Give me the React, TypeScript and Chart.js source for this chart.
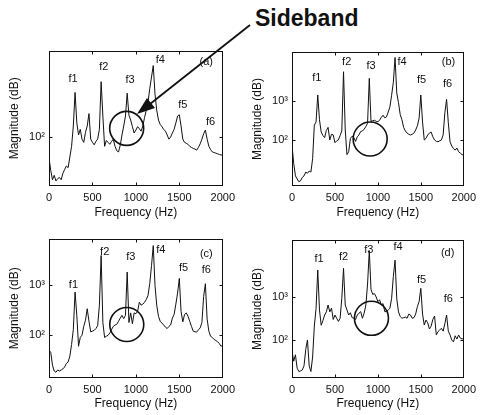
import React, { useEffect, useRef } from 'react';
import { Chart, registerables } from 'chart.js';

Chart.register(...registerables);
Chart.defaults.font.family = '"Liberation Sans", Arial, sans-serif';

const freq = [
  0, 20, 40, 60, 80, 100, 120, 140, 160, 180,
  200, 220, 240, 260, 280, 300, 320, 340, 360, 380,
  400, 420, 440, 460, 480, 500, 520, 540, 560, 580,
  600, 620, 640, 660, 680, 700, 720, 740, 760, 780,
  800, 820, 840, 860, 880, 900, 920, 940, 960, 980,
  1000, 1020, 1040, 1060, 1080, 1100, 1120, 1140, 1160, 1180,
  1200, 1220, 1240, 1260, 1280, 1300, 1320, 1340, 1360, 1380,
  1400, 1420, 1440, 1460, 1480, 1500, 1520, 1540, 1560, 1580,
  1600, 1620, 1640, 1660, 1680, 1700, 1720, 1740, 1760, 1780,
  1800, 1820, 1840, 1860, 1880, 1900, 1920, 1940, 1960, 1980,
  2000,
];

const magA = [
  60, 45, 36, 40, 35, 37, 38, 36, 42, 46,
  50, 48, 62, 80, 130, 290, 140, 105, 120, 95,
  88, 112, 130, 175, 95, 88, 83, 90, 95, 120,
  375, 165, 80, 92, 88, 84, 90, 95, 80, 72,
  70, 82, 105, 130, 165, 285, 168, 150, 128, 110,
  118, 128, 122, 115, 130, 160, 190, 230, 320, 420,
  552, 280, 190, 150, 135, 128, 120, 115, 105, 95,
  100, 110, 120, 140, 165, 170, 130, 95, 88, 86,
  84, 80, 78, 76, 75, 73, 78, 85, 95, 108,
  118, 95, 80, 74, 70, 69, 68, 67, 66, 65,
  65,
];

const magB = [
  74, 25, 12, 10, 8.5, 9, 11, 12, 15, 14,
  16, 15, 33, 240, 290, 1425, 330, 160, 130, 115,
  175, 210, 100, 140, 135, 85, 95, 100, 130, 170,
  5600, 180, 42, 50, 110, 125, 115, 92, 120, 135,
  165, 170, 190, 220, 270, 3800, 300, 310, 320, 300,
  295, 320, 380, 430, 370, 390, 520, 700, 1400, 3000,
  13000, 1600, 900, 450, 330, 210, 170, 150, 140, 134,
  140, 150, 180, 230, 360, 1425, 290, 100, 110, 134,
  150, 160, 120, 100, 92, 90, 95, 100, 135, 500,
  1100, 280, 90, 70, 60, 55, 62, 50, 46, 42,
  41,
];

const magC = [
  50, 45, 25, 19, 18, 20, 19, 20, 21, 23,
  27, 29, 38, 65, 130, 735, 250, 60, 90, 100,
  150, 200, 340, 190, 117, 120, 125, 136, 155, 400,
  3980, 180, 90, 95, 100, 110, 130, 150, 160, 165,
  190, 220, 250, 215, 250, 1850, 180, 280, 170, 280,
  270, 300, 460, 400, 420, 460, 520, 630, 1100, 2500,
  6300, 1000, 400, 240, 190, 175, 160, 145, 136, 150,
  160, 220, 260, 420, 700, 1380, 300, 185, 260, 280,
  240, 190, 150, 120, 117, 115, 128, 140, 180, 600,
  1080, 210, 120, 95, 90, 82, 78, 74, 68, 60,
  62,
];

const magD = [
  55, 32, 45, 22, 18.4, 19, 20, 25, 60, 100,
  25, 18.4, 40, 210, 540, 4250, 500, 220, 280, 380,
  450, 650, 450, 550, 300, 380, 320, 270, 319, 930,
  4640, 650, 500, 380, 430, 330, 320, 300, 380, 420,
  456, 320, 420, 650, 2000, 12000, 1500, 1150, 1200, 1000,
  780, 860, 650, 700, 456, 456, 500, 545, 930, 3000,
  7200, 900, 450, 350, 320, 330, 340, 320, 400, 380,
  320, 330, 400, 600, 780, 1590, 400, 223, 290, 250,
  180, 210, 300, 360, 131, 156, 170, 187, 160, 240,
  380, 160, 131, 100, 90, 125, 105, 130, 110, 105,
  109,
];

const peakNames = ['f1', 'f2', 'f3', 'f4', 'f5', 'f6'];
const labelFreqA = [277, 630, 932, 1281, 1540, 1860];
const labelMagA = [403, 531, 394, 637, 214, 143];
const labelFreqB = [288, 637, 921, 1281, 1508, 1812];
const labelMagB = [3950, 10200, 8040, 9800, 3470, 2690];
const labelFreqC = [281, 641, 941, 1286, 1549, 1811];
const labelMagC = [1000, 4790, 3680, 5250, 2220, 2000];
const labelFreqD = [315, 600, 894, 1235, 1508, 1819];
const labelMagD = [7600, 8650, 12400, 14300, 2480, 900];

const panelTags = ['(a)', '(b)', '(c)', '(d)'];
const tagFreq = [1810, 1823, 1811, 1812];
const tagMag = [597, 10200, 4300, 10400];

const circleFreq = [894, 910, 895, 925];
const circleMag = [123, 106, 164, 319];

const yMin = [31, 6.6, 13.8, 13];
const yMax = [789, 18000, 8700, 21200];

const xTickValues = [0, 500, 1000, 1500, 2000];
const xTickLabels = ['0', '500', '1000', '1500', '2000'];
const yTickValues = [100, 1000];
const yTickLabels = ['10²', '10³'];

const calloutText = 'Sideband';

const mags = [magA, magB, magC, magD];
const labelFreqs = [labelFreqA, labelFreqB, labelFreqC, labelFreqD];
const labelMags = [labelMagA, labelMagB, labelMagC, labelMagD];

const INK = '#111';

type PanelProps = {
  idx: number;
  left: number;
  top: number;
  width: number;
  height: number;
  padTop: number;
  padRight: number;
  xAxisH: number;
  titlePadBottom: number;
};

function Panel({ idx, left, top, width, height, padTop, padRight, xAxisH, titlePadBottom }: PanelProps) {
  const ref = useRef<HTMLCanvasElement>(null);
  useEffect(() => {
    if (!ref.current) return;
    const series = mags[idx];
    const overlay = {
      id: 'overlay' + idx,
      afterDatasetsDraw(chart: any) {
        const { ctx, chartArea, scales } = chart;
        const x = scales.x;
        const y = scales.y;
        const l = Math.round(chartArea.left) + 0.5;
        const t = Math.round(chartArea.top) + 0.5;
        const r = Math.round(chartArea.right) - 0.5;
        const b = Math.round(chartArea.bottom) - 0.5;
        ctx.save();
        ctx.strokeStyle = INK;
        ctx.lineWidth = 1;
        ctx.strokeRect(l, t, r - l, b - t);
        ctx.beginPath();
        xTickValues.slice(1, -1).forEach((v) => {
          const px = Math.round(x.getPixelForValue(v)) + 0.5;
          ctx.moveTo(px, b);
          ctx.lineTo(px, b - 3);
          ctx.moveTo(px, t);
          ctx.lineTo(px, t + 3);
        });
        yTickValues.forEach((v) => {
          if (v < y.min || v > y.max) return;
          const py = Math.round(y.getPixelForValue(v)) + 0.5;
          ctx.moveTo(l, py);
          ctx.lineTo(l + 3, py);
          ctx.moveTo(r, py);
          ctx.lineTo(r - 3, py);
        });
        ctx.stroke();

        ctx.fillStyle = INK;
        ctx.font = '11px "Liberation Sans", Arial, sans-serif';
        ctx.textAlign = 'center';
        ctx.textBaseline = 'middle';
        const lf = labelFreqs[idx];
        const lm = labelMags[idx];
        peakNames.forEach((name, i) => {
          ctx.fillText(name, x.getPixelForValue(lf[i]), y.getPixelForValue(lm[i]));
        });
        ctx.fillText(panelTags[idx], x.getPixelForValue(tagFreq[idx]), y.getPixelForValue(tagMag[idx]));

        ctx.lineWidth = 1.6;
        ctx.beginPath();
        ctx.arc(x.getPixelForValue(circleFreq[idx]), y.getPixelForValue(circleMag[idx]), 17, 0, Math.PI * 2);
        ctx.stroke();
        ctx.restore();
      },
    };

    const chart = new Chart(ref.current, {
      type: 'line',
      data: {
        datasets: [
          {
            data: freq.map((f, i) => ({ x: f, y: series[i] })),
            borderColor: INK,
            borderWidth: 1,
            pointRadius: 0,
            tension: 0,
            fill: false,
          },
        ],
      },
      options: {
        animation: false,
        responsive: false,
        events: [],
        layout: { padding: { top: padTop, right: padRight, left: 0, bottom: 0 } },
        plugins: { legend: { display: false }, tooltip: { enabled: false } },
        scales: {
          x: {
            type: 'linear',
            min: 0,
            max: 2000,
            grid: { display: false, drawTicks: false },
            border: { display: false },
            afterBuildTicks: (s: any) => {
              s.ticks = xTickValues.map((v) => ({ value: v }));
            },
            afterFit: (s: any) => {
              s.height = xAxisH;
            },
            ticks: {
              autoSkip: false,
              maxRotation: 0,
              padding: 5,
              color: INK,
              font: { size: 11 },
              callback: (v: any) => {
                const k = xTickValues.indexOf(Number(v));
                return k >= 0 ? xTickLabels[k] : '';
              },
            },
            title: {
              display: true,
              text: 'Frequency (Hz)',
              color: INK,
              font: { size: 12 },
              padding: { top: 0, bottom: titlePadBottom },
            },
          },
          y: {
            type: 'logarithmic',
            min: yMin[idx],
            max: yMax[idx],
            grid: { display: false, drawTicks: false },
            border: { display: false },
            afterBuildTicks: (s: any) => {
              s.ticks = yTickValues.filter((v) => v >= s.min && v <= s.max).map((v) => ({ value: v }));
            },
            afterFit: (s: any) => {
              s.width = 49;
            },
            ticks: {
              padding: 4,
              color: INK,
              font: { size: 11 },
              callback: (v: any) => {
                const k = yTickValues.indexOf(Number(v));
                return k >= 0 ? yTickLabels[k] : '';
              },
            },
            title: {
              display: true,
              text: 'Magnitude (dB)',
              color: INK,
              font: { size: 12 },
              padding: { top: 7, bottom: 0 },
            },
          },
        },
      } as any,
      plugins: [overlay],
    });
    return () => chart.destroy();
  }, [idx, padTop, padRight, xAxisH, titlePadBottom]);

  return (
    <canvas
      ref={ref}
      width={width}
      height={height}
      style={{ position: 'absolute', left, top, width, height }}
    />
  );
}

export default function App() {
  const tipX = 137;
  const tipY = 114;
  return (
    <div
      style={{
        position: 'absolute',
        left: 0,
        top: 0,
        width: 481,
        height: 415,
        background: '#fff',
        overflow: 'hidden',
      }}
    >
      <Panel idx={0} left={0} top={40} width={240} height={185} padTop={10} padRight={14} xAxisH={39} titlePadBottom={5} />
      <Panel idx={1} left={243} top={40} width={238} height={185} padTop={12} padRight={13} xAxisH={39} titlePadBottom={5} />
      <Panel idx={2} left={0} top={228} width={240} height={187} padTop={10} padRight={13} xAxisH={37} titlePadBottom={4} />
      <Panel idx={3} left={243} top={228} width={238} height={187} padTop={12} padRight={13} xAxisH={37} titlePadBottom={4} />
      <div
        style={{
          position: 'absolute',
          left: 255,
          top: 7,
          fontFamily: '"Liberation Sans", Arial, sans-serif',
          fontWeight: 'bold',
          fontSize: 23,
          lineHeight: 1,
          color: INK,
          whiteSpace: 'nowrap',
        }}
      >
        {calloutText}
      </div>
      <svg
        width={481}
        height={415}
        style={{ position: 'absolute', left: 0, top: 0, pointerEvents: 'none' }}
      >
        <line x1={250} y1={25} x2={150} y2={104} stroke={INK} strokeWidth={1.8} />
        <polygon points={`${tipX},${tipY} 155,108 147,98`} fill={INK} />
      </svg>
    </div>
  );
}
